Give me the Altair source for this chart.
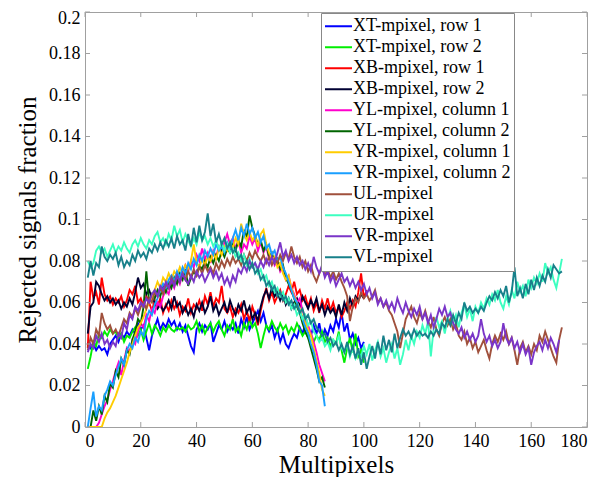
import altair as alt
import pandas as pd

FONT = "Liberation Serif"
FRAME = "#a0a0a0"

# Series names and colours (legend order)
names = ["XT-mpixel, row 1", "XT-mpixel, row 2", "XB-mpixel, row 1", "XB-mpixel, row 2",
         "YL-mpixel, column 1", "YL-mpixel, column 2", "YR-mpixel, column 1", "YR-mpixel, column 2",
         "UL-mpixel", "UR-mpixel", "VR-mpixel", "VL-mpixel"]
colors = ["#0000ff", "#00ee00", "#ff0000", "#000033",
          "#ff00cc", "#006400", "#ffcc00", "#1a9fff",
          "#a0503c", "#3cffc0", "#7a35c8", "#17808a"]

x_ticks = [0, 20, 40, 60, 80, 100, 120, 140, 160, 180]
y_ticks = [0, 0.02, 0.04, 0.06, 0.08, 0.1, 0.12, 0.14, 0.16, 0.18, 0.2]

# Rejected signals fraction, in thousandths, one value per multipixel (starting at 1)
xt_row1 = [41,38,40,37,39,37,38,35,40,42, 44,41,45,43,46,44,47,45,50,47, 49,43,37,44,48,52,47,50,48,52,
           49,51,47,50,46,49,44,39,36,47, 50,46,49,47,50,41,45,49,47,51, 46,49,47,50,45,52,48,53,47,50,
           53,56,51,55,49,46,49,43,47,41, 45,40,38,42,45,43,48,45,50,46, 44,49,45,50,43,47,44,49,46,52,
           48,55,46,50,42,45,40,43,38,41]
xt_row2 = [28,34,41,39,45,43,46,44,47,45, 46,43,45,41,44,43,46,48,44,47, 42,46,50,45,49,47,44,48,46,49,
           47,46,48,47,48,46,49,47,48,51, 46,49,45,48,50,46,49,51,47,44, 49,47,52,46,48,44,50,47,52,48,
           50,45,38,44,49,47,51,48,46,50, 47,49,45,48,46,50,47,44,46,43, 45,41,44,42,46,41,43,39,42,40,
           46,37,31,38,43,36,45,34,37,31]
xb_row1 = [38,70,62,65,59,72,64,61,63,59, 62,60,63,58,61,66,64,68,60,62, 58,63,60,56,61,58,62,55,59,56,
           61,57,60,54,58,56,62,55,59,57, 61,56,63,59,65,58,62,60,68,57, 55,58,53,57,55,59,52,56,51,58,
           54,49,56,62,67,61,65,60,63,66, 61,64,68,65,70,64,66,61,63,58, 62,56,60,55,61,57,62,56,60,55,
           58,53,56,60,57,61,58,65,74,62, 66]
xb_row2 = [45,58,60,70,68,64,61,63,60,62, 59,61,57,60,58,62,59,65,72,67, 69,64,66,62,60,57,59,56,58,61,
           57,63,58,60,55,58,54,57,53,59, 56,60,55,58,63,56,59,54,57,60, 55,61,57,54,59,56,61,55,58,52,
           55,51,58,63,66,62,67,63,65,61, 64,59,62,57,60,62,58,63,60,57, 61,58,62,56,59,54,58,55,57,53,
           59,54,60,56,62,58,63,61,64,62]
yl_col1 = [0,0,0,0,2,6,10,13,18,22, 27,31,25,32,38,36,42,40,46,50, 48,54,51,57,55,60,58,63,66,64,
           70,67,72,69,74,78,75,80,77,83, 80,86,81,84,79,85,82,87,84,89, 93,88,91,86,90,84,88,86,92,88,
           91,85,89,84,87,81,83,78,80,75, 77,71,73,67,64,60,62,56,53,49, 45,41,36,30,26,22]
yl_col2 = [0,0,8,3,10,6,15,12,21,19, 27,24,33,30,37,35,42,46,52,50, 58,75,60,64,62,66,63,68,65,70,
           67,72,69,74,71,76,68,72,75,73, 78,76,80,77,82,79,83,80,85,82, 86,84,88,85,90,87,95,91,102,96,
           92,88,90,85,88,82,84,79,81,76, 78,72,69,66,62,58,55,50,46,43, 38,33,28,22,24,19]
yr_col1 = [0,0,0,0,0,0,4,7,9,12, 15,19,23,27,31,36,40,44,48,50, 53,57,60,62,66,70,67,72,70,74,
           71,75,73,77,74,78,76,80,88,79, 77,81,78,82,80,84,81,86,83,87, 85,89,86,91,88,98,93,90,94,90,
           92,87,93,95,88,84,80,82,77,79, 74,71,73,67,63,60,57,53,50,47, 44,38,32,26,18,15]
yr_col2 = [0,9,17,5,10,8,15,18,22,20, 25,29,33,30,37,40,38,43,41,46, 44,52,56,54,59,62,66,69,67,71,
           73,70,75,72,77,74,79,76,81,78, 83,80,85,82,86,83,88,85,87,84, 89,86,91,95,90,96,92,98,93,96,
           91,94,89,92,86,88,83,85,80,82, 77,74,70,66,62,60,56,52,48,45, 40,36,30,22,20,10]
ul = [37,43,40,47,44,55,50,47,49,45, 47,44,48,52,50,55,53,57,54,58, 60,57,62,60,65,63,67,64,69,67,
      72,69,73,70,74,71,75,72,76,73, 77,74,78,75,77,74,79,76,80,77, 81,78,82,79,81,78,83,80,84,81,
      85,82,80,83,79,82,78,81,79,83, 80,84,81,87,82,79,82,77,80,75, 78,73,70,74,77,73,76,72,75,71,
      74,70,67,63,51,58,62,60,65,62, 64,61,63,66,60,62,58,60,56,54, 50,46,38,45,52,55,58,53,50,55,
      52,56,51,48,53,47,44,50,53,49, 52,47,50,44,42,46,40,43,38,41, 36,39,42,37,33,40,44,41,45,42,
      46,40,43,37,30,38,41,36,39,35, 40,37,44,41,46,42,38,34,31,42, 48]
ur = [80,77,79,85,87,84,86,82,85,88, 84,87,85,89,86,84,88,90,87,91, 88,86,90,88,92,94,89,91,88,93,
      90,97,92,95,89,93,90,87,91,88, 94,90,92,88,91,87,90,86,89,85, 88,84,86,82,84,80,83,78,81,77,
      79,74,76,71,73,68,70,65,67,63, 65,60,62,57,59,54,56,52,54,49, 51,46,44,41,43,39,41,37,42,40,
      44,38,36,40,34,38,33,36,34,39, 35,40,32,37,41,34,38,31,36,40, 33,38,30,35,42,37,44,40,46,43,
      49,45,51,34,47,53,48,51,45,52, 56,50,54,48,55,59,53,57,51,58, 55,60,57,62,59,64,61,66,60,57,
      63,59,66,62,70,65,68,63,71,67, 72,69,74,70,79,74,77,71,67,74, 81]
vr = [36,40,38,44,41,45,40,42,38,41, 39,45,43,50,47,54,52,58,56,60, 58,62,60,64,66,63,68,66,70,67,
      71,68,73,70,74,71,69,73,70,75, 72,74,70,73,76,72,75,71,74,69, 72,68,73,70,76,74,78,75,80,77,
      79,76,80,77,81,78,82,79,84,89, 82,85,80,83,79,82,78,80,76,79, 75,82,77,74,78,72,75,70,73,68,
      71,74,70,72,68,71,67,70,66,69, 64,67,62,65,59,62,58,61,57,60, 56,62,58,55,60,56,53,57,54,58,
      52,55,50,54,48,52,57,54,58,53, 55,50,47,45,48,43,46,42,45,41, 44,52,45,41,44,39,42,38,41,50,
      43,40,43,38,41,36,40,35,38,30, 36,39,41,37,42,38,43,40,36,42]
vl = [72,80,73,79,77,87,82,80,83,81, 84,78,82,77,80,78,83,80,85,82, 84,81,86,84,88,85,89,86,90,87,
      91,86,92,88,90,85,93,87,96,89, 97,90,94,103,92,98,89,93,88,91, 86,89,84,86,81,83,78,80,76,79,
      74,76,71,73,68,70,66,68,63,65, 61,63,59,61,57,59,55,57,52,54, 50,52,48,46,44,45,41,43,39,41,
      37,40,36,41,35,39,33,38,30,36, 28,34,39,33,41,35,44,37,42,36, 45,38,43,47,44,46,43,47,44,46,
      44,45,43,46,44,47,45,50,48,52, 49,54,50,55,52,60,56,58,55,57, 55,58,56,60,63,61,65,62,66,63,
      68,60,65,77,63,67,62,69,64,71, 66,72,68,73,70,76,72,78,76,74, 75]

series = [xt_row1, xt_row2, xb_row1, xb_row2, yl_col1, yl_col2, yr_col1, yr_col2, ul, ur, vr, vl]

rows = []
for k, (name, vals) in enumerate(zip(names, series)):
    for i, v in enumerate(vals):
        rows.append({"mp": i + 1, "frac": v / 1000.0, "series": name, "order": k})
df = pd.DataFrame(rows)

W, H = 502, 415
TL = 5

xscale = alt.Scale(domain=[0, 180], nice=False, zero=False)
yscale = alt.Scale(domain=[0, 0.2], nice=False, zero=False)
xaxis = alt.Axis(values=x_ticks, format="d", labelOverlap=False)
yaxis = alt.Axis(values=y_ticks, format="~g", labelOverlap=False,
                 labelOffset={"condition": {"test": "datum.value > 0.19", "value": 6}, "value": 0})
XT = "Multipixels"
YT = "Rejected signals fraction"

lines = alt.Chart(df).mark_line(strokeWidth=1.9, clip=True).encode(
    x=alt.X("mp:Q", scale=xscale, title=XT, axis=xaxis),
    y=alt.Y("frac:Q", scale=yscale, title=YT, axis=yaxis),
    color=alt.Color("series:N", sort=names,
                    scale=alt.Scale(domain=names, range=colors),
                    legend=alt.Legend(title=None, orient="none", legendX=236, legendY=1,
                                      symbolType="stroke", symbolSize=729, symbolStrokeWidth=2,
                                      labelFont=FONT, labelFontSize=18, labelColor="black",
                                      labelOffset=0, rowPadding=0, clipHeight=20.5, padding=3,
                                      strokeColor="#888888", fillColor="white", labelLimit=400)),
    detail="order:O",
)

xt_df = pd.DataFrame({"t": x_ticks})
yt_df = pd.DataFrame({"t": y_ticks})
tick_style = dict(color=FRAME, strokeWidth=1)
bottom = alt.Chart(xt_df).mark_rule(**tick_style).encode(
    x=alt.X("t:Q", scale=xscale, title=XT, axis=xaxis), y=alt.value(H), y2=alt.value(H - TL))
top = alt.Chart(xt_df).mark_rule(**tick_style).encode(
    x=alt.X("t:Q", scale=xscale, title=XT, axis=xaxis), y=alt.value(0), y2=alt.value(TL))
left = alt.Chart(yt_df).mark_rule(**tick_style).encode(
    y=alt.Y("t:Q", scale=yscale, title=YT, axis=yaxis), x=alt.value(0), x2=alt.value(TL))
right = alt.Chart(yt_df).mark_rule(**tick_style).encode(
    y=alt.Y("t:Q", scale=yscale, title=YT, axis=yaxis), x=alt.value(W), x2=alt.value(W - TL))

chart = alt.layer(lines, bottom, top, left, right).properties(
    width=W, height=H,
    autosize=alt.AutoSizeParams(type="none"),
    padding={"left": 77, "top": 4, "right": 16, "bottom": 50},
    background="white",
).configure_view(
    stroke=FRAME, strokeWidth=1
).configure_axis(
    domain=False, ticks=False, grid=False,
    labelFont=FONT, labelFontSize=18, labelColor="black", labelPadding=5,
    titleFont=FONT, titleFontSize=25, titleFontWeight="normal", titleColor="black",
).configure_axisX(
    titlePadding=2
).configure_axisY(
    titlePadding=8
)

chart.save("out.html", embed_options={"renderer": "svg", "actions": False})
